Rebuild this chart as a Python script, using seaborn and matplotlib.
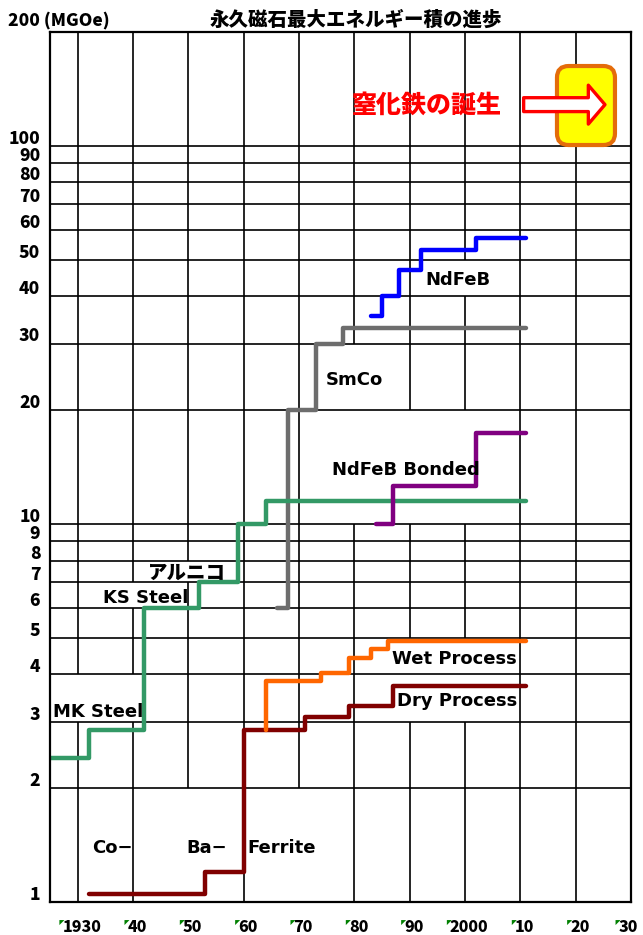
import numpy as np
import pandas as pd
import matplotlib
matplotlib.use("Agg")
import matplotlib.pyplot as plt
import matplotlib.transforms as mtransforms
from matplotlib.patches import Rectangle, FancyBboxPatch, Polygon
import seaborn as sns

# --- data: year where each level begins, last point = end of the line ---
alloy_years = [1925, 1932, 1942, 1952, 1959, 1964, 2011]
alloy_bh = [2.4, 2.85, 6.0, 7.0, 10.0, 11.5, 11.5]
smco_years = [1966, 1968, 1973, 1978, 2011]
smco_bh = [6.0, 20.0, 30.0, 33.0, 33.0]
ndfeb_years = [1983, 1985, 1988, 1992, 2002, 2011]
ndfeb_bh = [35.5, 40.0, 47.0, 53.0, 57.0, 57.0]
bonded_years = [1984, 1987, 2002, 2011]
bonded_bh = [10.0, 12.6, 17.4, 17.4]
wet_years = [1964, 1964, 1974, 1979, 1983, 1986, 2011]
wet_bh = [2.85, 3.83, 4.04, 4.43, 4.68, 4.91, 4.91]
dry_years = [1932, 1953, 1960, 1971, 1979, 1987, 2011]
dry_bh = [1.05, 1.2, 2.85, 3.09, 3.3, 3.73, 3.73]

series_names = ["smco", "alloy", "ndfeb", "bonded", "dry", "wet"]
series_colors = ["#6d6d6d", "#339966", "#0000ff", "#800080", "#800000", "#ff6600"]

y_ticks = [1, 2, 3, 4, 5, 6, 7, 8, 9, 10, 20, 30, 40, 50, 60, 70, 80, 90, 100]
x_ticks = [1930, 1940, 1950, 1960, 1970, 1980, 1990, 2000, 2010, 2020, 2030]
x_tick_labels = ["1930", "40", "50", "60", "70", "80", "90", "2000", "10", "20", "30"]

title = "永久磁石最大エネルギー積の進歩"
news = "窒化鉄の誕生"

# build long table for seaborn
frames = []
for name, yrs, vals in [("alloy", alloy_years, alloy_bh), ("smco", smco_years, smco_bh),
                        ("ndfeb", ndfeb_years, ndfeb_bh), ("bonded", bonded_years, bonded_bh),
                        ("wet", wet_years, wet_bh), ("dry", dry_years, dry_bh)]:
    frames.append(pd.DataFrame({"year": yrs, "bh": vals, "series": name}))
df = pd.concat(frames, ignore_index=True)

sns.set_style("white")
plt.rcParams["font.family"] = ["DejaVu Sans", "Noto Sans CJK JP"]
plt.rcParams["text.color"] = "black"
plt.rcParams["xtick.color"] = "black"
plt.rcParams["ytick.color"] = "black"
jp = "Noto Sans CJK JP"

fig = plt.figure(figsize=(6.43, 9.35), dpi=100)
ax = fig.add_axes([50 / 643, 1 - 902 / 935, 581 / 643, 870 / 935])

ax.set_yscale("log")
ax.set_xlim(1925, 2030)
ax.set_ylim(1, 200)

# grid: vertical lines under the label boxes, horizontal lines above them
for yr in x_ticks[:-1]:
    ax.axvline(yr, color="black", lw=1.2, zorder=0.5)
for v in y_ticks[1:]:
    ax.axhline(v, color="black", lw=1.2, zorder=2)

sns.lineplot(data=df, x="year", y="bh", hue="series", hue_order=series_names,
             palette=dict(zip(series_names, series_colors)), estimator=None,
             sort=False, drawstyle="steps-post", lw=3.2, legend=False, ax=ax, zorder=3)

# labels with white boxes filling the grid band (x0, x1, band low, band high)
labels = [
    ("MK Steel", 1925.5, 3.19, 1925.2, 1941.8, 3, 4),
    ("KS Steel", 1934.5, 6.35, 1933.8, 1949.6, 6, 7),
    ("SmCo", 1974.8, 24.0, 1974.2, 1985.4, 20, 30),
    ("NdFeB", 1992.9, 44.2, 1992.3, 2004.8, 40, 50),
    ("NdFeB Bonded", 1975.9, 13.9, 1975.3, 2002.0, 10, 20),
    ("Wet Process", 1986.8, 4.40, 1986.2, 2009.4, 4, 5),
    ("Dry Process", 1987.7, 3.41, 1987.1, 2009.8, 3, 4),
    ("Co\u2212", 1932.7, 1.39, 1932.1, 1939.6, 1, 2),
    ("Ba\u2212", 1949.7, 1.39, 1949.1, 1956.6, 1, 2),
    ("Ferrite", 1960.7, 1.39, 1960.4, 1973.0, 1, 2),
]
for txt, x, y, x0, x1, lo, hi in labels:
    ax.add_patch(Rectangle((x0, lo), x1 - x0, hi - lo, fc="white", ec="none", zorder=1))
    ax.text(x, y, txt, ha="left", va="center", fontsize=13, fontweight="bold",
            color="black", zorder=5)

ax.add_patch(Rectangle((1942.2, 7), 15.3, 1, fc="white", ec="none", zorder=1))
ax.text(1942.7, 7.39, "アルニコ", ha="left", va="center", fontsize=14,
        fontweight="heavy", family=jp, color="black", zorder=5)

# nitride iron note with arrow and box
ax.text(1979.5, 128.5, news, ha="left", va="center", fontsize=18,
        fontweight="heavy", color="#ff0000", family=jp, zorder=5)
box = FancyBboxPatch((0.8726, 0.8701), 0.0998, 0.0908, transform=ax.transAxes,
                     boxstyle="round,pad=0,rounding_size=0.02", mutation_aspect=581 / 870,
                     fc="#ffff00", ec="#e46c0a", lw=3, zorder=6)
ax.add_patch(box)
ax.annotate("", xy=(2025.3, 128.5), xytext=(2010.6, 128.5),
            arrowprops=dict(arrowstyle="simple,head_length=0.6,head_width=1.4,tail_width=0.5",
                            fc="white", ec="#ff0000", lw=2.4, mutation_scale=20,
                            shrinkA=0, shrinkB=0),
            zorder=7)

# axes styling
for s in ax.spines.values():
    s.set_color("black")
    s.set_linewidth(1.6)
    s.set_zorder(8)
ax.set_xlabel("")
ax.set_ylabel("")
ax.yaxis.set_minor_locator(matplotlib.ticker.NullLocator())
ax.set_yticks(y_ticks)
ax.set_yticklabels([str(v) for v in y_ticks], family=jp, fontweight="heavy", fontsize=12.5)
ax.set_xticks(x_ticks)
ax.set_xticklabels(x_tick_labels, family=jp, fontweight="heavy", fontsize=11.5)
ax.tick_params(axis="y", length=0, pad=7, labelcolor="black")
ax.tick_params(axis="x", direction="out", length=4, width=1.2, pad=9, labelcolor="black")

up = mtransforms.ScaledTranslation(0, 6.5 / 72, fig.dpi_scale_trans)
for lab in ax.get_yticklabels():
    lab.set_transform(lab.get_transform() + up)
right = mtransforms.ScaledTranslation(3 / 72, 0, fig.dpi_scale_trans)
for lab in ax.get_xticklabels()[:-1]:
    lab.set_transform(lab.get_transform() + right)
left = mtransforms.ScaledTranslation(-2 / 72, 0, fig.dpi_scale_trans)
last = ax.get_xticklabels()[-1]
last.set_transform(last.get_transform() + left)

fig.text(8 / 643, 1 - 20 / 935, "200 (MGOe)", ha="left", va="center",
         fontsize=12.5, fontweight="heavy", family=jp, color="black")
fig.text(356 / 643, 1 - 20 / 935, title, ha="center", va="center",
         fontsize=14, fontweight="heavy", family=jp, color="black")

# small green corner marks on the year labels
fig.canvas.draw()
for lab in ax.get_xticklabels():
    bb = lab.get_window_extent()
    tri = Polygon([[bb.x0 - 3, bb.y1], [bb.x0 + 2, bb.y1], [bb.x0 - 3, bb.y1 - 5]],
                  closed=True, fc="#008000", ec="none",
                  transform=mtransforms.IdentityTransform())
    fig.add_artist(tri)

fig.savefig("out.png", dpi=100)
